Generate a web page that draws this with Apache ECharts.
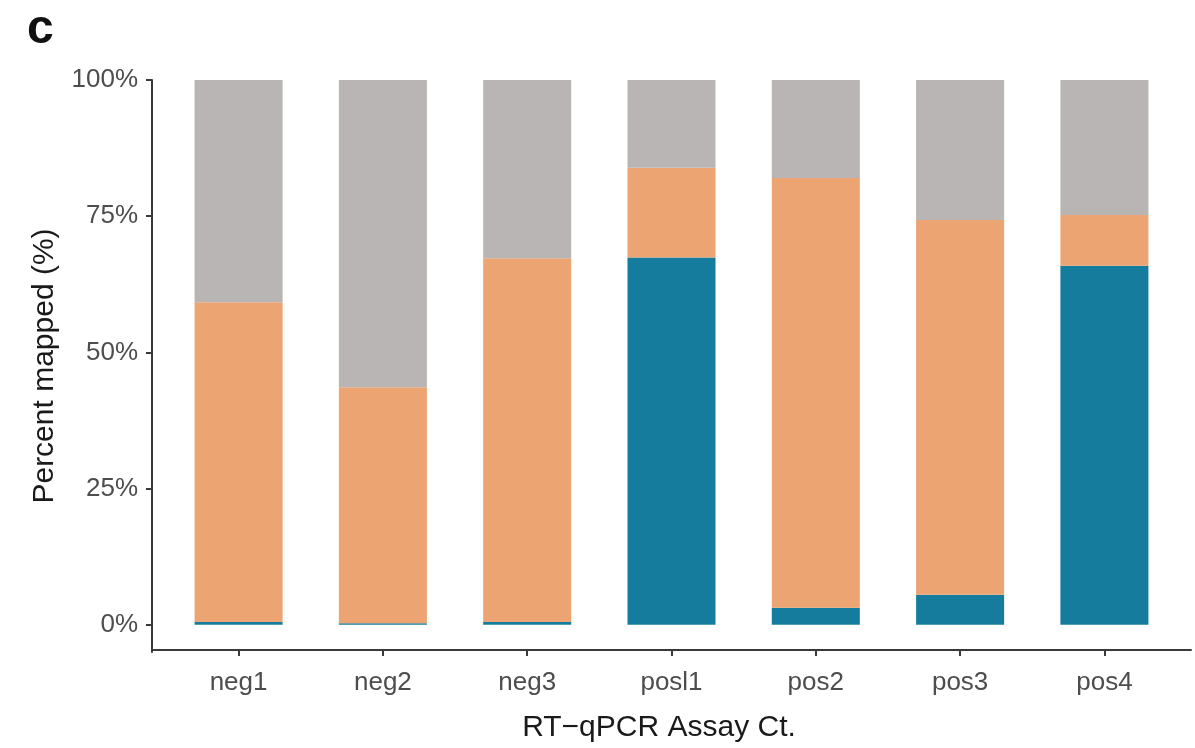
<!DOCTYPE html>
<html>
<head>
<meta charset="utf-8">
<script src="https://cdn.jsdelivr.net/npm/echarts@6.0.0/dist/echarts.min.js"></script>
<style>
html, body { margin: 0; padding: 0; background: #fff; }
#chart { width: 1195px; height: 748px; }
</style>
</head>
<body>
<div id="chart"></div>
<script>
// samples on the x axis
var categories = ['neg1', 'neg2', 'neg3', 'posl1', 'pos2', 'pos3', 'pos4'];
// percent of reads, stacked bottom -> top
var virusPct    = [0.5, 0.3, 0.5, 67.4, 3.1, 5.5, 65.9];
var hostPct     = [58.7, 43.3, 66.8, 16.5, 78.9, 68.8, 9.3];
var unmappedPct = [40.8, 56.4, 32.7, 16.1, 18.0, 25.7, 24.8];
var yTicks = [0, 25, 50, 75, 100];

var colors = ['#167C9E', '#ECA472', '#B8B5B4'];
var axisColor = '#3a3a3a';
var textColor = '#4d4d4d';
var fontFamily = '"Liberation Sans", Arial, sans-serif';

var myChart = echarts.init(document.getElementById('chart'));

// panel runs 152..1191 px; ggplot pads a discrete axis by 0.6 of a step,
// so the bar grid (category axis) is inset by 0.1 step on both sides
var panelLeft = 152, panelRight = 1191;
var step = (panelRight - panelLeft) / (categories.length + 0.2);
var inset = 0.1 * step;

// tick positions for the drawn x axis (value axis 0.4 .. 7.6)
var xPos = categories.map(function (c, i) { return i + 1; });

function barSeries(name, arr, color) {
    return {
        name: name,
        type: 'bar',
        stack: 'total',
        barWidth: '61%',
        itemStyle: { color: color },
        emphasis: { disabled: true },
        data: arr
    };
}

var option = {
    backgroundColor: '#ffffff',
    animation: false,
    grid: [
        { left: panelLeft + inset, right: 1195 - panelRight + inset, top: 80, bottom: 96 },
        { left: panelLeft, right: 1195 - panelRight, top: 80, bottom: 96 }
    ],
    graphic: [{
        type: 'text',
        left: 27,
        top: 6,
        style: {
            text: 'c',
            font: '900 48px "Liberation Sans", Arial, sans-serif',
            fill: '#111'
        }
    }],
    xAxis: [{
        // bars live here; axis itself hidden
        type: 'category',
        gridIndex: 0,
        data: categories,
        axisLine: { show: false },
        axisTick: { show: false },
        axisLabel: { show: false }
    }, {
        // visible x axis spanning the whole panel
        type: 'value',
        gridIndex: 1,
        min: 0.4,
        max: 7.6,
        splitLine: { show: false },
        axisLine: { show: true, onZero: false, lineStyle: { color: axisColor, width: 2 } },
        axisTick: { show: true, length: 6, customValues: xPos, lineStyle: { color: axisColor, width: 2 } },
        axisLabel: {
            customValues: xPos,
            margin: 20,
            color: textColor,
            fontSize: 26,
            fontFamily: fontFamily,
            formatter: function (v) { return categories[Math.round(v) - 1]; }
        },
        name: 'RT\u2212qPCR Assay Ct.',
        nameLocation: 'middle',
        nameGap: 63,
        nameTextStyle: { color: '#1a1a1a', fontSize: 30, fontFamily: fontFamily, padding: [0, 25, 0, 0] }
    }],
    yAxis: [{
        type: 'value',
        gridIndex: 0,
        min: -5,
        max: 100,
        offset: inset,
        splitLine: { show: false },
        axisLine: { show: true, onZero: false, lineStyle: { color: axisColor, width: 2 } },
        axisTick: { show: true, length: 6, customValues: yTicks, lineStyle: { color: axisColor, width: 2 } },
        axisLabel: {
            customValues: yTicks,
            margin: 14,
            color: textColor,
            fontSize: 26,
            fontFamily: fontFamily,
            formatter: '{value}%'
        },
        name: 'Percent mapped (%)',
        nameLocation: 'middle',
        nameGap: 92,
        nameTextStyle: { color: '#1a1a1a', fontSize: 30, fontFamily: fontFamily }
    }, {
        type: 'value',
        gridIndex: 1,
        min: -5,
        max: 100,
        show: false
    }],
    series: [
        barSeries('Virus', virusPct, colors[0]),
        barSeries('Host', hostPct, colors[1]),
        barSeries('Unmapped', unmappedPct, colors[2])
    ]
};

myChart.setOption(option);

window.addEventListener('resize', function () {
    myChart.resize();
});
</script>
</body>
</html>
